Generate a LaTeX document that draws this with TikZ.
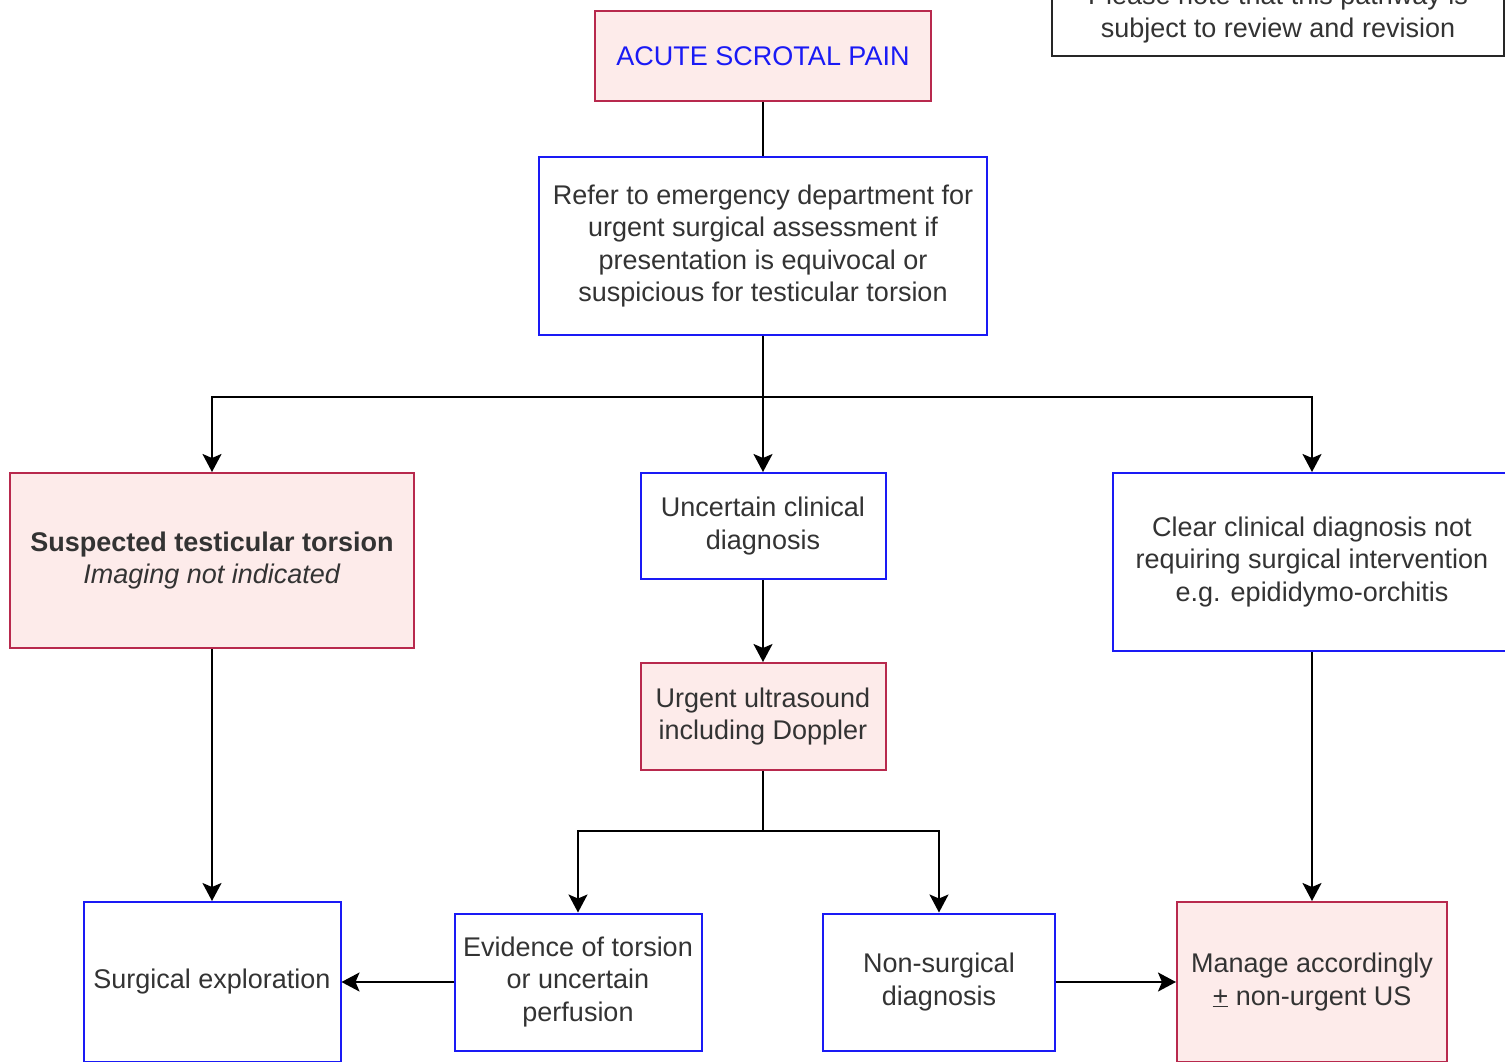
\documentclass[tikz,border=0pt]{standalone}
\usepackage{fontspec}
\setmainfont{Liberation Sans}
\usetikzlibrary{arrows.meta}

\definecolor{boxpink}{HTML}{FDEBEA}
\definecolor{boxred}{HTML}{B8294D}
\definecolor{boxblue}{HTML}{1A1AF5}
\definecolor{txtgray}{HTML}{333333}

\tikzset{
  base/.style={rectangle, line width=2pt, align=center, text=txtgray,
    font=\fontsize{27}{32.5}\selectfont, inner sep=0pt},
  pinkbox/.style={base, draw=boxred, fill=boxpink},
  bluebox/.style={base, draw=boxblue, fill=white},
  notebox/.style={base, draw=black!85},
  arr/.style={line width=2pt, -{Stealth[length=18pt,width=19pt,inset=4pt]}},
  ln/.style={line width=2pt}
}

\begin{document}
\begin{tikzpicture}[x=1pt,y=-1pt]
			\useasboundingbox (0,0) rectangle (1505,1061);
			\clip (0,0) rectangle (1505,1061);
			
			% Nota
			\node[notebox, minimum width=452pt, minimum height=84pt] (note) at (1278,14)
				{Please note that this pathway is\\subject to review and revision};
			
			% Inicio
			\node[pinkbox, minimum width=336pt, minimum height=90pt] (acute) at (763,56)
				{\textcolor{boxblue}{ACUTE SCROTAL PAIN}};
			\node[bluebox, minimum width=448pt, minimum height=178pt] (refer) at (763,246)
				{Refer to emergency department for\\urgent surgical assessment if\\presentation is equivocal or\\suspicious for testicular torsion};
			
			% Tres ramas
			\node[pinkbox, minimum width=404pt, minimum height=175pt] (suspected) at (212,560.5)
				{\textbf{Suspected testicular torsion}\\\textit{Imaging not indicated}};
			\node[bluebox, minimum width=245pt, minimum height=106pt] (uncertain) at (763,526)
				{Uncertain clinical\\diagnosis};
			\node[bluebox, minimum width=398pt, minimum height=178pt] (clear) at (1312,562)
				{Clear clinical diagnosis not\\requiring surgical intervention\\e.g. epididymo-orchitis};
			
			% Ecografía
			\node[pinkbox, minimum width=245pt, minimum height=107pt] (urgent) at (763,716.5)
				{Urgent ultrasound\\including Doppler};
			
			% Fila inferior
			\node[bluebox, minimum width=257pt, minimum height=160pt] (surgical) at (212,982)
				{Surgical exploration};
			\node[bluebox, minimum width=247pt, minimum height=137pt] (evidence) at (578,982)
				{Evidence of torsion\\or uncertain\\perfusion};
			\node[bluebox, minimum width=232pt, minimum height=137pt] (nonsurg) at (939,982)
				{Non-surgical\\diagnosis};
			\node[pinkbox, minimum width=270pt, minimum height=160pt] (manage) at (1312,982)
				{Manage accordingly\\\underline{+} non-urgent US};
			
			% Conectores
			\coordinate (split) at (763,397);
			\coordinate (split2) at (763,831);
			\draw[ln] (acute) -- (refer);
			\draw[ln] (refer) -- (split);
			\draw[arr] (split) -- (uncertain);
			\draw[arr] (split) -| (suspected);
			\draw[arr] (split) -| (clear);
			\draw[arr] (uncertain) -- (urgent);
			\draw[ln] (urgent) -- (split2);
			\draw[arr] (split2) -| (evidence);
			\draw[arr] (split2) -| (nonsurg);
			\draw[arr] (suspected) -- (surgical);
			\draw[arr] (clear) -- (manage);
			\draw[arr] (evidence) -- (surgical);
			\draw[arr] (nonsurg) -- (manage);
		\end{tikzpicture}
\end{document}
